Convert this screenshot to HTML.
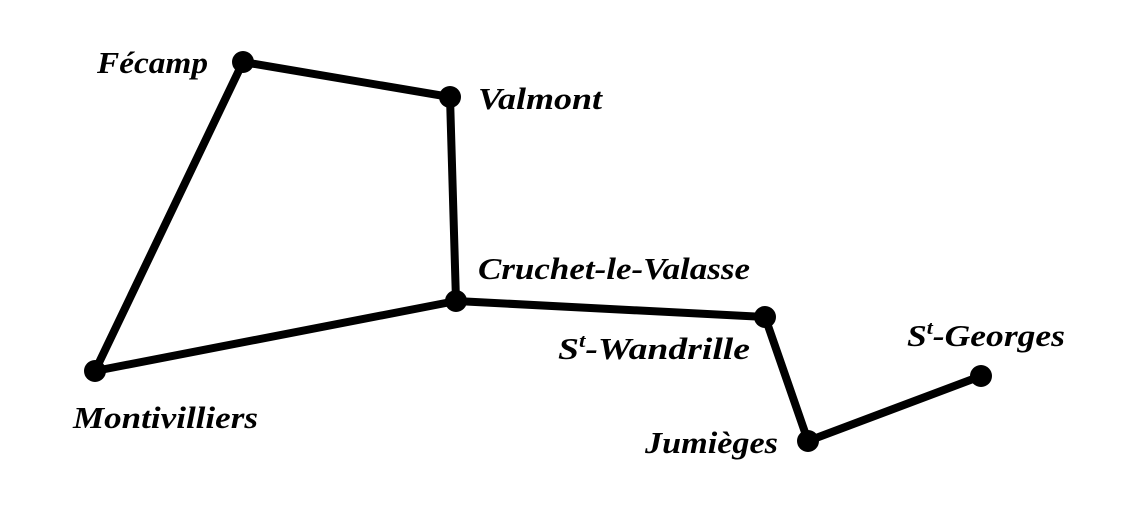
<!DOCTYPE html>
<html><head><meta charset="utf-8"><style>
html,body{margin:0;padding:0;background:#fff;}
svg{display:block;}
text{font-family:"Liberation Serif",serif;font-style:italic;font-weight:bold;font-size:31px;fill:#000;}
</style></head><body>
<svg width="1143" height="518" viewBox="0 0 1143 518" xmlns="http://www.w3.org/2000/svg">
<g stroke="#000" stroke-width="8" fill="none" stroke-linejoin="round">
<polyline points="95,371 243,62 450,97 456,301 95,371"/>
<polyline points="456,301 765,317 808,441 981,376"/>
</g>
<g fill="#000">
<circle cx="243" cy="62" r="11"/>
<circle cx="450" cy="97" r="11"/>
<circle cx="456" cy="301" r="11"/>
<circle cx="95" cy="371" r="11"/>
<circle cx="765" cy="317" r="11"/>
<circle cx="808" cy="441" r="11"/>
<circle cx="981" cy="376" r="11"/>
</g>
<text x="97" y="73" textLength="111" lengthAdjust="spacingAndGlyphs">Fécamp</text>
<text x="478" y="109" textLength="124" lengthAdjust="spacingAndGlyphs">Valmont</text>
<text x="478" y="279" textLength="272" lengthAdjust="spacingAndGlyphs">Cruchet-le-Valasse</text>
<text x="558" y="359" textLength="192" lengthAdjust="spacingAndGlyphs">S<tspan font-size="19" dy="-12">t</tspan><tspan dy="12">-Wandrille</tspan></text>
<text x="907" y="346" textLength="158" lengthAdjust="spacingAndGlyphs">S<tspan font-size="19" dy="-12">t</tspan><tspan dy="12">-Georges</tspan></text>
<text x="645" y="453" textLength="133" lengthAdjust="spacingAndGlyphs">Jumièges</text>
<text x="73" y="428" textLength="185" lengthAdjust="spacingAndGlyphs">Montivilliers</text>
</svg>
</body></html>
